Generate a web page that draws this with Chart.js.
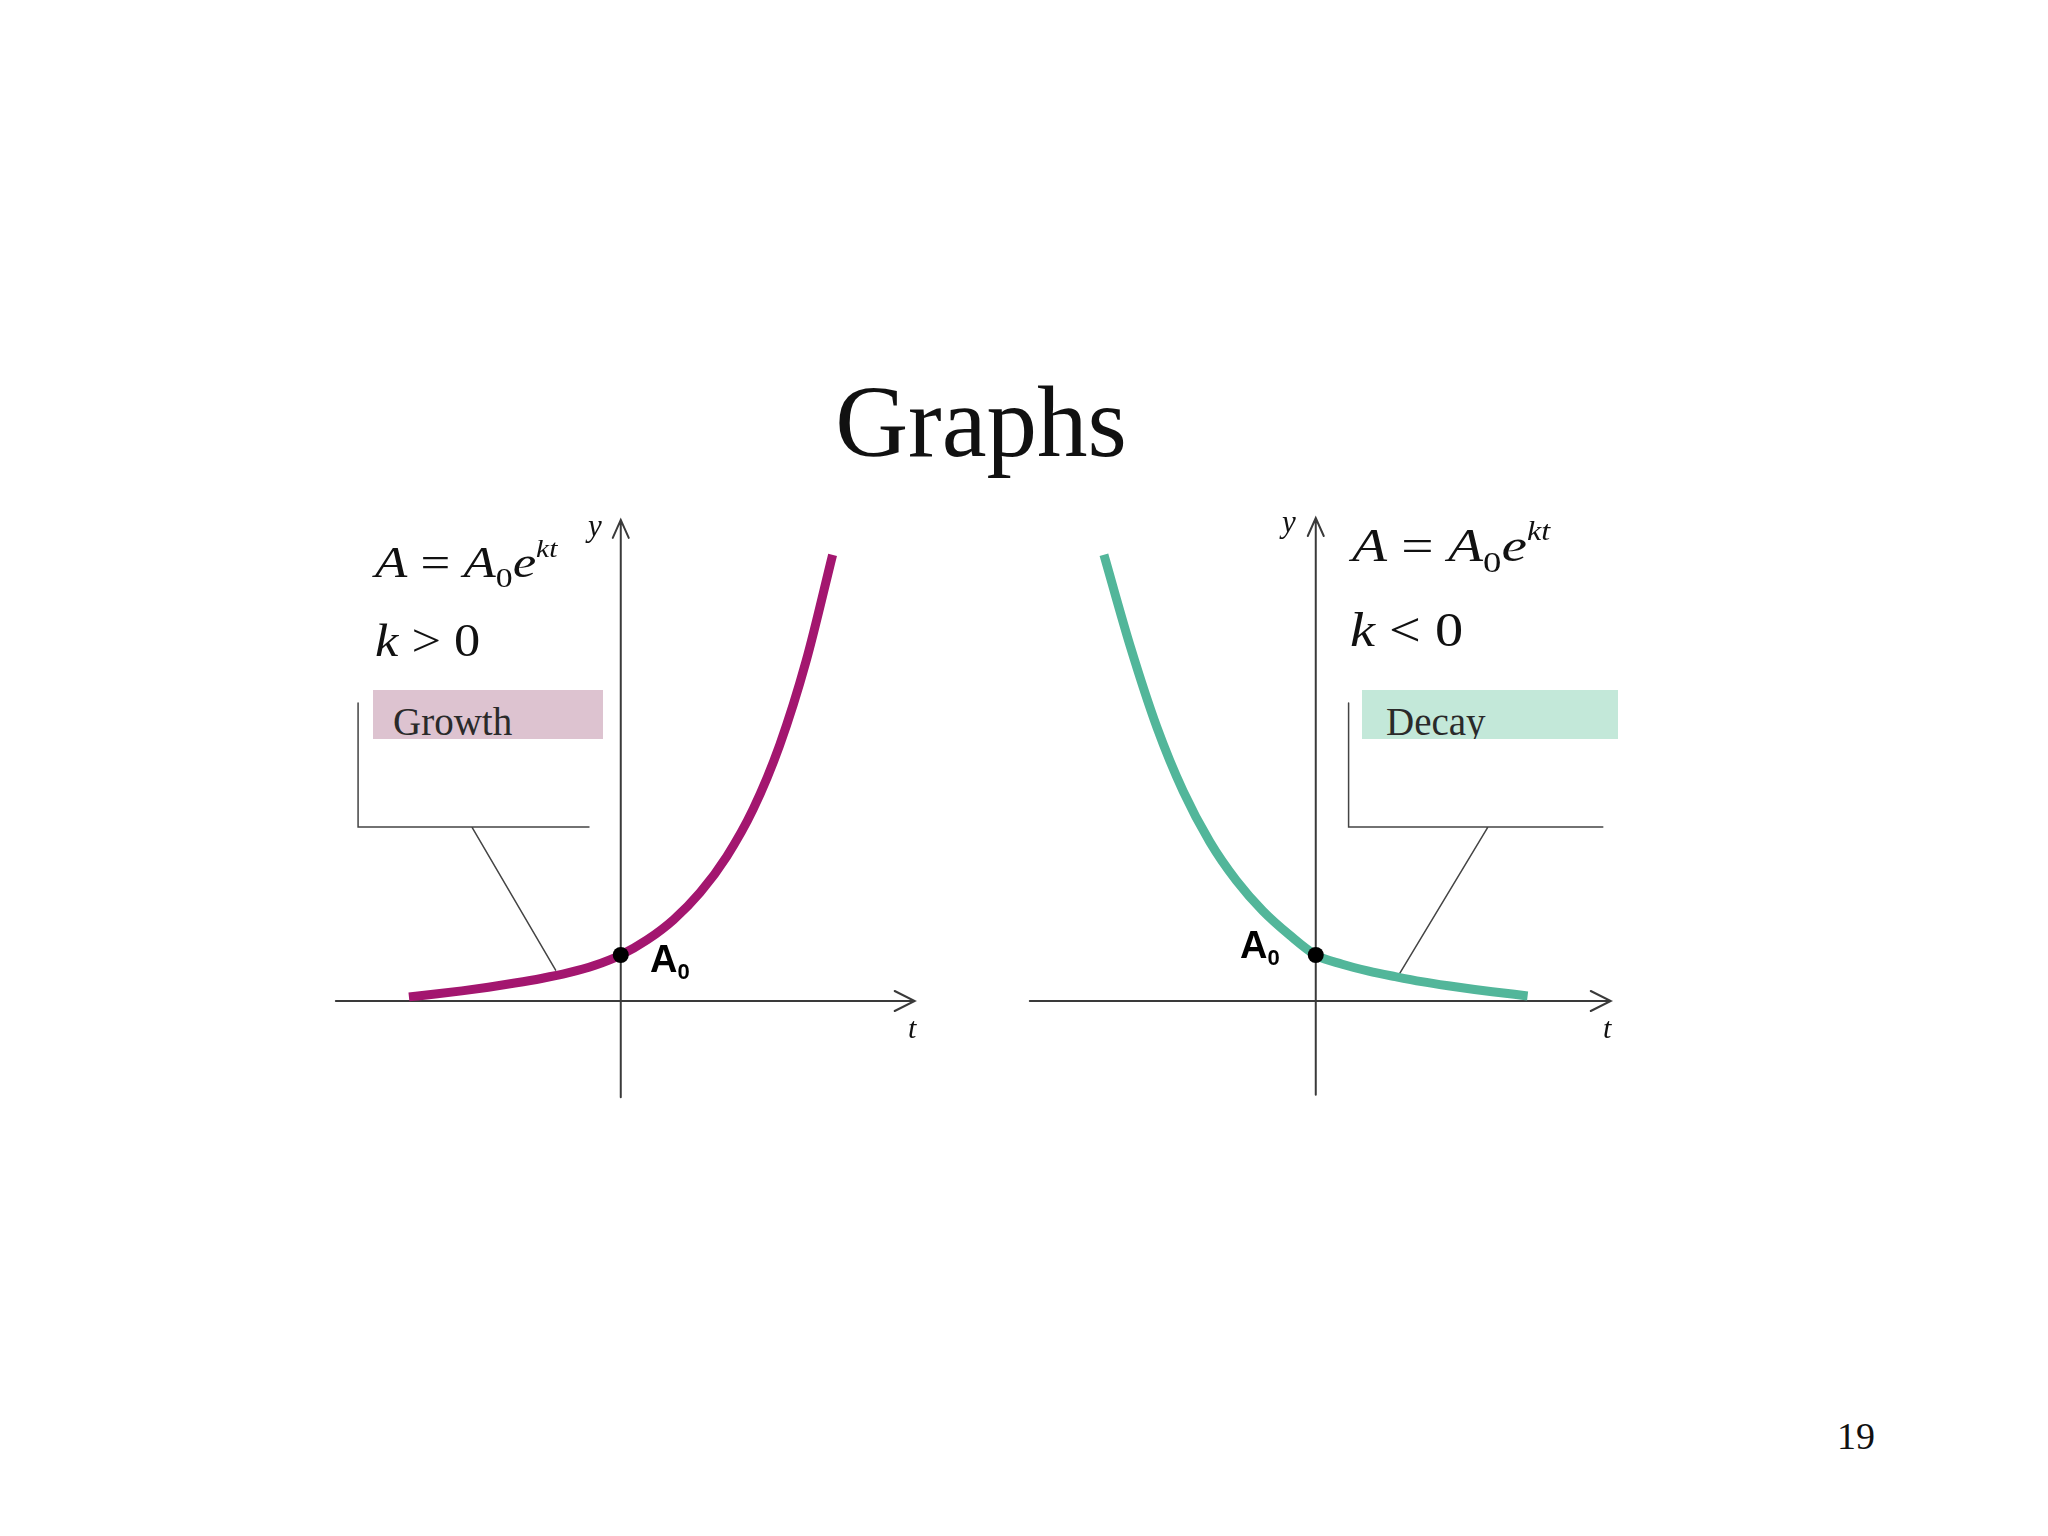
<!DOCTYPE html>
<html>
<head>
<meta charset="utf-8">
<title>Graphs</title>
<script src="https://cdn.jsdelivr.net/npm/chart.js@4.4.0/dist/chart.umd.min.js"></script>
<style>
  html, body { margin: 0; padding: 0; background: #fff; }
  body { width: 2048px; height: 1536px; position: relative; overflow: hidden; }
  canvas { position: absolute; }
  .txt { position: absolute; white-space: nowrap; line-height: 1; color: #111;
         font-family: "Liberation Serif", "Times New Roman", serif; }
  .math { transform-origin: 0 0; }
  .sb { font-size: 0.64em; position: relative; top: 0.36em; font-style: normal; }
  .sp { font-size: 0.56em; position: relative; top: -0.8em; font-style: italic; }
  .box { position: absolute; overflow: hidden; }
  .box span { position: absolute; left: 0; white-space: nowrap; line-height: 1; color: #2a2a2a;
              font-family: "Liberation Serif", "Times New Roman", serif; font-size: 39px; }
  .a0 { position: absolute; white-space: nowrap; line-height: 1; color: #000; font-weight: bold;
        font-family: "Liberation Sans", Arial, sans-serif; font-size: 38px; }
  .a0 .s0 { font-size: 0.58em; position: relative; top: 0.3em; }
</style>
</head>
<body>

<div class="txt" style="left:0; width:1962px; text-align:center; top:372px; font-size:101px;">Graphs</div>
<div class="txt" style="left:1837px; top:1417px; font-size:38px;">19</div>

<!-- growth side -->
<canvas id="growthChart" width="662" height="644" style="left:303px; top:472px;"></canvas>
<div class="txt math" style="left:375px; top:541px; font-size:44px; transform:scaleX(1.2);"><i>A</i> = <i>A</i><span class="sb">0</span><i>e</i><span class="sp">kt</span></div>
<div class="txt math" style="left:375px; top:618px; font-size:46px; transform:scaleX(1.14);"><i>k</i> &gt; 0</div>
<div class="txt" style="left:588px; top:510px; font-size:31px;"><i>y</i></div>
<div class="txt" style="left:908px; top:1013px; font-size:30px;"><i>t</i></div>
<div class="box" style="left:373px; top:690px; width:230px; height:49px; background:#ddc3d0;"><span style="left:20px; top:12px;">Growth</span></div>
<div class="a0" style="left:650px; top:940px;">A<span class="s0">0</span></div>

<!-- decay side -->
<canvas id="decayChart" width="662" height="644" style="left:998px; top:472px;"></canvas>
<div class="txt math" style="left:1352px; top:522px; font-size:47px; transform:scaleX(1.22);"><i>A</i> = <i>A</i><span class="sb">0</span><i>e</i><span class="sp">kt</span></div>
<div class="txt math" style="left:1350px; top:605px; font-size:49px; transform:scaleX(1.15);"><i>k</i> &lt; 0</div>
<div class="txt" style="left:1282px; top:506px; font-size:31px;"><i>y</i></div>
<div class="txt" style="left:1603px; top:1013px; font-size:30px;"><i>t</i></div>
<div class="box" style="left:1362px; top:690px; width:256px; height:49px; background:#c3e8d9;"><span style="left:24px; top:12px;">Decay</span></div>
<div class="a0" style="left:1240px; top:926px;">A<span class="s0">0</span></div>

<script>
// values, A/A0 against t
const tValues = [-4, -3.5, -3, -2.5, -2, -1.5, -1, -0.5, 0, 0.5, 1, 1.5, 2, 2.5, 3, 3.5, 4];
const growthValues = [0.09, 0.15, 0.22, 0.30, 0.39, 0.49, 0.61, 0.77, 1.00, 1.33, 1.77, 2.36, 3.14, 4.17, 5.56, 7.39, 9.70];
const decayValues = [9.70, 7.70, 5.95, 4.55, 3.46, 2.62, 1.96, 1.44, 1.00, 0.80, 0.65, 0.53, 0.42, 0.33, 0.25, 0.18, 0.11];
const a0Value = 1;

// axis extents and callout leader, in data units
const growthLayout = {
  axis: { x0: -5.38, x1: 5.55, y0: -2.09, y1: 10.46 },
  callout: { vx: -4.96, top: 6.48, hy: 3.78, hx: -0.6, jx: -2.81, tipX: -1.23, tipY: 0.67 }
};
const decayLayout = {
  axis: { x0: -5.40, x1: 5.57, y0: -2.04, y1: 10.5 },
  callout: { vx: 0.62, top: 6.48, hy: 3.78, hx: 5.42, jx: 3.25, tipX: 1.58, tipY: 0.59 }
};

function sketchPlugin(layout) {
  return {
    id: 'sketch',
    beforeDatasetsDraw(chart) {
      const ctx = chart.ctx;
      const xs = chart.scales.x, ys = chart.scales.y;
      const px = v => xs.getPixelForValue(v);
      const py = v => ys.getPixelForValue(v);
      const a = layout.axis, c = layout.callout;
      ctx.save();
      ctx.strokeStyle = '#3a3a3a';
      ctx.lineWidth = 2;
      ctx.lineCap = 'round';
      ctx.beginPath();
      // t axis with open arrow
      ctx.moveTo(px(a.x0), py(0));
      ctx.lineTo(px(a.x1), py(0));
      ctx.moveTo(px(a.x1) - 20, py(0) - 10);
      ctx.lineTo(px(a.x1), py(0));
      ctx.lineTo(px(a.x1) - 20, py(0) + 10);
      // y axis with open arrow
      ctx.moveTo(px(0), py(a.y0));
      ctx.lineTo(px(0), py(a.y1));
      ctx.moveTo(px(0) - 8, py(a.y1) + 18);
      ctx.lineTo(px(0), py(a.y1));
      ctx.lineTo(px(0) + 8, py(a.y1) + 18);
      ctx.stroke();
      // callout leader
      ctx.strokeStyle = '#444';
      ctx.lineWidth = 1.5;
      ctx.beginPath();
      ctx.moveTo(px(c.vx), py(c.top));
      ctx.lineTo(px(c.vx), py(c.hy));
      ctx.lineTo(px(c.hx), py(c.hy));
      ctx.moveTo(px(c.jx), py(c.hy));
      ctx.lineTo(px(c.tipX), py(c.tipY));
      ctx.stroke();
      ctx.restore();
    }
  };
}

function makeChart(id, values, color, layout) {
  return new Chart(document.getElementById(id), {
    type: 'line',
    data: {
      datasets: [
        { data: [{ x: 0, y: a0Value }], showLine: false, pointRadius: 8,
          pointBackgroundColor: '#000', pointBorderWidth: 0, order: 0 },
        { data: tValues.map((t, i) => ({ x: t, y: values[i] })), borderColor: color,
          borderWidth: 9, pointRadius: 0, cubicInterpolationMode: 'monotone',
          borderCapStyle: 'butt', fill: false, order: 1 }
      ]
    },
    options: {
      responsive: false,
      animation: false,
      devicePixelRatio: 1,
      events: [],
      layout: { padding: 0, autoPadding: false },
      plugins: { legend: { display: false }, tooltip: { enabled: false } },
      scales: {
        x: { type: 'linear', min: -6, max: 6.5, display: false },
        y: { type: 'linear', min: -2.5, max: 11.5, display: false }
      }
    },
    plugins: [sketchPlugin(layout)]
  });
}

makeChart('growthChart', growthValues, '#a3166f', growthLayout);
makeChart('decayChart', decayValues, '#52b69a', decayLayout);
</script>
</body>
</html>
